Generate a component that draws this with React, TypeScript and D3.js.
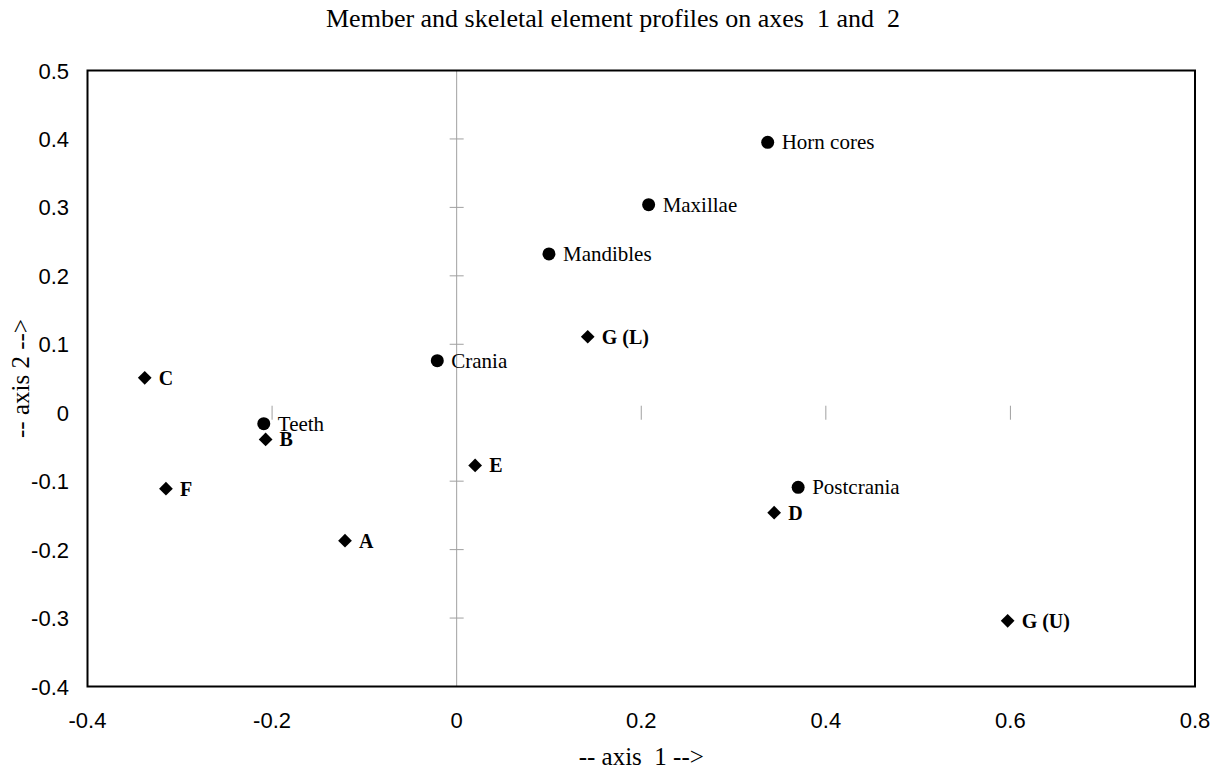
import React, { useEffect, useRef } from 'react';
import * as d3 from 'd3';

// skeletal elements (circles)
const elementNames = ['Horn cores', 'Maxillae', 'Mandibles', 'Crania', 'Teeth', 'Postcrania'];
const elementAxis1 = [0.337, 0.208, 0.1, -0.021, -0.209, 0.37];
const elementAxis2 = [0.395, 0.304, 0.232, 0.076, -0.016, -0.109];

// members (diamonds)
const memberNames = ['G (L)', 'C', 'B', 'E', 'F', 'A', 'D', 'G (U)'];
const memberAxis1 = [0.142, -0.338, -0.207, 0.02, -0.315, -0.121, 0.344, 0.597];
const memberAxis2 = [0.111, 0.051, -0.039, -0.077, -0.111, -0.187, -0.146, -0.304];

const xTicks = [-0.4, -0.2, 0, 0.2, 0.4, 0.6, 0.8];
const yTicks = [0.5, 0.4, 0.3, 0.2, 0.1, 0, -0.1, -0.2, -0.3, -0.4];

export default function App() {
  const ref = useRef<SVGSVGElement>(null);

  useEffect(() => {
    const width = 1223, height = 769;
    const m = { left: 87.5, right: 28, top: 70.5, bottom: 82.5 };
    const svg = d3.select(ref.current);
    svg.selectAll('*').remove();

    const x = d3.scaleLinear().domain([-0.4, 0.8]).range([m.left, width - m.right]);
    const y = d3.scaleLinear().domain([-0.4, 0.5]).range([height - m.bottom, m.top]);

    const serif = "'Liberation Serif', 'Times New Roman', serif";
    const sans = "'Liberation Sans', Arial, sans-serif";

    // title
    svg.append('text')
      .attr('x', 613).attr('y', 27)
      .attr('text-anchor', 'middle')
      .style('font-family', serif).style('font-size', '26px').style('white-space', 'pre')
      .text('Member and skeletal element profiles on axes  1 and  2');

    // zero axes (vertical line visible, horizontal one only ticks)
    const grey = '#a0a0a0';
    svg.append('line')
      .attr('x1', x(0)).attr('x2', x(0))
      .attr('y1', y(0.5)).attr('y2', y(-0.4))
      .attr('stroke', grey).attr('stroke-width', 1);

    svg.selectAll('.ytk')
      .data(yTicks.filter(d => d !== 0.5 && d !== -0.4 && d !== 0))
      .enter().append('line')
      .attr('x1', x(0) - 7).attr('x2', x(0) + 7)
      .attr('y1', d => y(d)).attr('y2', d => y(d))
      .attr('stroke', grey);

    svg.selectAll('.xtk')
      .data(xTicks.filter(d => d !== -0.4 && d !== 0.8 && d !== 0))
      .enter().append('line')
      .attr('x1', d => x(d)).attr('x2', d => x(d))
      .attr('y1', y(0) - 7).attr('y2', y(0) + 7)
      .attr('stroke', grey);

    // frame
    svg.append('rect')
      .attr('x', m.left).attr('y', m.top)
      .attr('width', width - m.left - m.right)
      .attr('height', height - m.top - m.bottom)
      .attr('fill', 'none').attr('stroke', '#000').attr('stroke-width', 2);

    // tick labels
    svg.selectAll('.ylab')
      .data(yTicks)
      .enter().append('text')
      .attr('x', 69).attr('y', d => y(d) + 8)
      .attr('text-anchor', 'end')
      .style('font-family', sans).style('font-size', '22px')
      .text(d => String(d));

    svg.selectAll('.xlab')
      .data(xTicks)
      .enter().append('text')
      .attr('x', d => x(d)).attr('y', 728)
      .attr('text-anchor', 'middle')
      .style('font-family', sans).style('font-size', '22px')
      .text(d => String(d));

    // axis titles
    svg.append('text')
      .attr('x', x(0.2)).attr('y', 765)
      .attr('text-anchor', 'middle')
      .style('font-family', serif).style('font-size', '25px').style('white-space', 'pre')
      .text('-- axis  1 -->');

    svg.append('text')
      .attr('transform', `translate(29,${(y(0.5) + y(-0.4)) / 2}) rotate(-90)`)
      .attr('text-anchor', 'middle')
      .style('font-family', serif).style('font-size', '25px')
      .text('-- axis 2 -->');

    // elements
    const elements = elementNames.map((n, i) => ({ n, a: elementAxis1[i], b: elementAxis2[i] }));
    svg.selectAll('.el')
      .data(elements)
      .enter().append('circle')
      .attr('cx', d => x(d.a)).attr('cy', d => y(d.b))
      .attr('r', 6.5).attr('fill', '#000');
    svg.selectAll('.ellab')
      .data(elements)
      .enter().append('text')
      .attr('x', d => x(d.a) + 14).attr('y', d => y(d.b) + 7)
      .style('font-family', serif).style('font-size', '21px')
      .text(d => d.n);

    // members
    const members = memberNames.map((n, i) => ({ n, a: memberAxis1[i], b: memberAxis2[i] }));
    const diamond = d3.symbol().type(d3.symbolDiamond2).size(120);
    svg.selectAll('.mem')
      .data(members)
      .enter().append('path')
      .attr('d', diamond)
      .attr('transform', d => `translate(${x(d.a)},${y(d.b)})`)
      .attr('fill', '#000');
    svg.selectAll('.memlab')
      .data(members)
      .enter().append('text')
      .attr('x', d => x(d.a) + 14).attr('y', d => y(d.b) + 7)
      .style('font-family', serif).style('font-size', '20px').style('font-weight', 'bold')
      .text(d => d.n);
  }, []);

  return (
    <svg ref={ref} width={1223} height={769}
      style={{ position: 'absolute', left: 0, top: 0, background: '#fff' }} />
  );
}
